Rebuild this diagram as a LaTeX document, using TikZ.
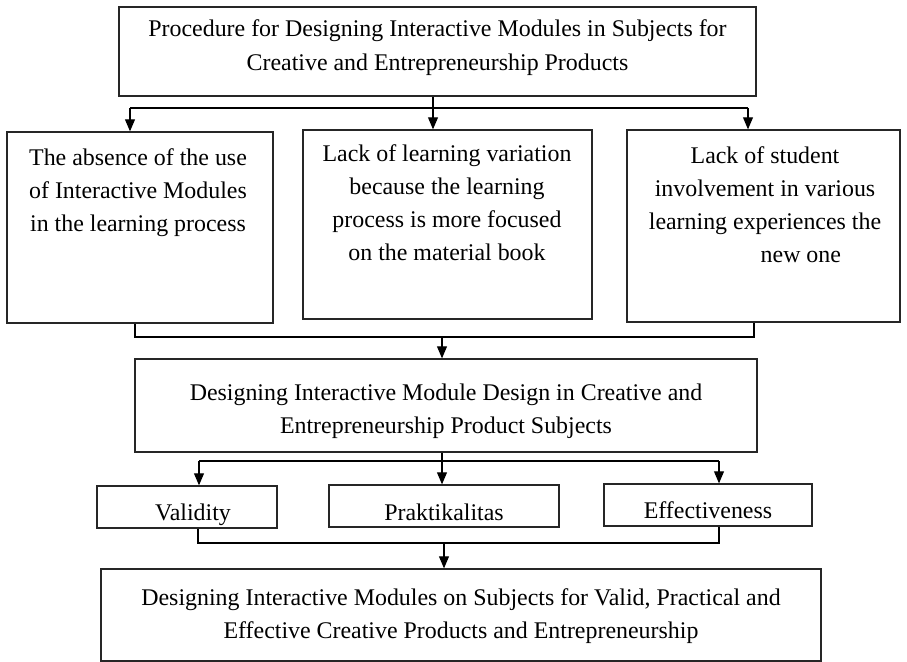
\documentclass[tikz,border=0pt]{standalone}
\usepackage{fontspec}
\setmainfont{Liberation Serif}
\usetikzlibrary{fit,arrows.meta}

\begin{document}
\begin{tikzpicture}[x=0.025cm, y=-0.025cm,
	box/.style={draw, inner sep=0pt, line width=0.9pt, draw=black!85},
	txt/.style={inner sep=0pt, align=center, font=\fontsize{17pt}{23.6pt}\selectfont},
	arr/.style={-{Triangle[length=8.5pt,width=7pt]}, line width=0.8pt},
	line width=0.8pt]
				\useasboundingbox (0,0) rectangle (907,662);
				
				\node[box, fit={(119,7) (756,96)}] (top) {};
				\node[txt, anchor=north] (top-txt) at (437.5,19.5) {Procedure for Designing Interactive Modules in Subjects for\\Creative and Entrepreneurship Products};
				
				\node[box, fit={(7,132) (273,323)}] (absence) {};
				\node[txt, anchor=north] (absence-txt) at (138,148) {The absence of the use\\of Interactive Modules\\in the learning process};
				\node[box, fit={(303,130) (592,319)}] (variation) {};
				\node[txt, anchor=north] (variation-txt) at (447,144) {Lack of learning variation\\because the learning\\process is more focused\\on the material book};
				\node[box, fit={(627,130) (900,322)}] (involvement) {};
				\node[txt, anchor=north] (involvement-txt) at (765,146) {Lack of student\\involvement in various\\learning experiences the\\\hspace*{3em}new one};
				
				\node[box, fit={(135,359) (757,452)}] (design) {};
				\node[txt, anchor=north] (design-txt) at (446,383) {Designing Interactive Module Design in Creative and\\Entrepreneurship Product Subjects};
				
				\node[box, fit={(97,486) (277,528)}] (validity) {};
				\node[txt, anchor=base] (validity-txt) at (193,520) {Validity};
				\node[box, fit={(329,485) (559,527)}] (prakt) {};
				\node[txt, anchor=base] (prakt-txt) at (444,520) {Praktikalitas};
				\node[box, fit={(604,484) (812,526)}] (effect) {};
				\node[txt, anchor=base] (effect-txt) at (708,518) {Effectiveness};
				
				\node[box, fit={(101,569) (821,661)}] (final) {};
				\node[txt, anchor=north] (final-txt) at (461,588) {Designing Interactive Modules on Subjects for Valid, Practical and\\Effective Creative Products and Entrepreneurship};
				
				\coordinate (s1) at (433,108);
				\coordinate (s1l) at (130,108);
				\coordinate (s1r) at (748,108);
				\draw (top.south -| s1) -- (s1);
				\draw (s1l) -- (s1r);
				\draw[arr] (s1l) -- (absence.north -| s1l);
				\draw[arr] (s1) -- (variation.north -| s1);
				\draw[arr] (s1r) -- (involvement.north -| s1r);
				
				\coordinate (m1) at (442,337);
				\coordinate (m1l) at (135,337);
				\coordinate (m1r) at (754,337);
				\draw (absence.south -| m1l) -- (m1l) -- (m1r) -- (involvement.south -| m1r);
				\draw[arr] (m1) -- (design.north -| m1);
				
				\coordinate (s2) at (442,461);
				\coordinate (s2l) at (199,461);
				\coordinate (s2r) at (719,461);
				\draw (design.south -| s2) -- (s2);
				\draw (s2l) -- (s2r);
				\draw[arr] (s2l) -- (validity.north -| s2l);
				\draw[arr] (s2) -- (prakt.north -| s2);
				\draw[arr] (s2r) -- (effect.north -| s2r);
				
				\coordinate (m2) at (444,543);
				\coordinate (m2l) at (198,543);
				\coordinate (m2r) at (719,543);
				\draw (validity.south -| m2l) -- (m2l) -- (m2r) -- (effect.south -| m2r);
				\draw[arr] (m2) -- (final.north -| m2);
			\end{tikzpicture}
\end{document}
